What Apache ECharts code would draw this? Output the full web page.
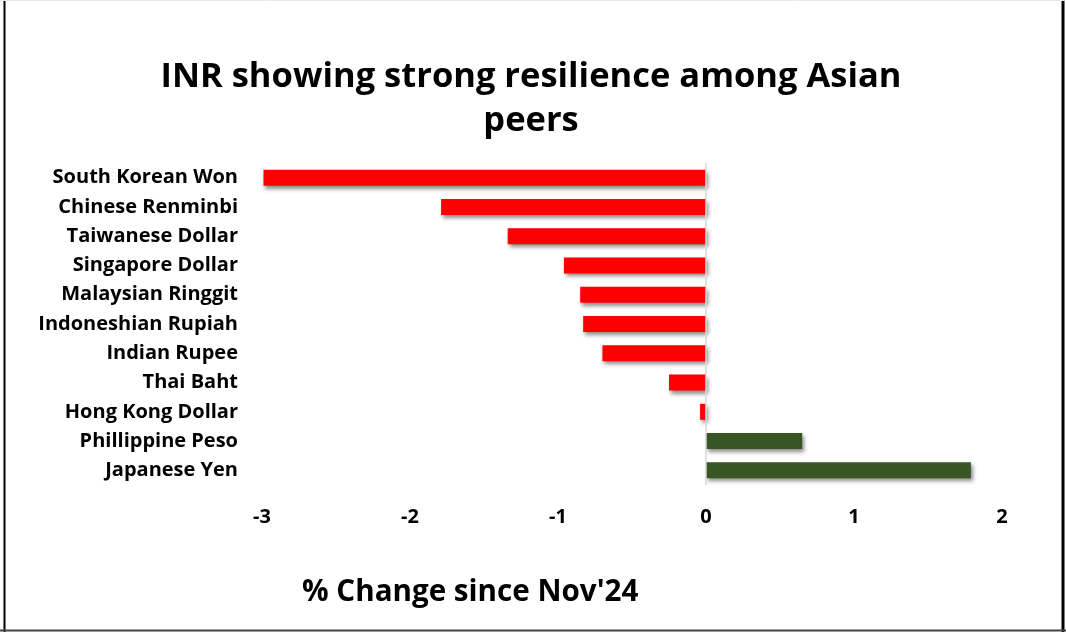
<!DOCTYPE html>
<html>
<head>
<meta charset="utf-8">
<script src="https://cdn.jsdelivr.net/npm/echarts@6/dist/echarts.min.js"></script>
<style>
html,body{margin:0;padding:0;background:#fff;}
#chart{width:1066px;height:632px;}
</style>
</head>
<body>
<div id="chart"></div>
<script>
const categories = ["South Korean Won","Chinese Renminbi","Taiwanese Dollar","Singapore Dollar","Malaysian Ringgit","Indoneshian Rupiah","Indian Rupee","Thai Baht","Hong Kong Dollar","Phillippine Peso","Japanese Yen"];
const changes = [-2.99, -1.79, -1.34, -0.96, -0.85, -0.83, -0.70, -0.25, -0.04, 0.65, 1.79];
const xTicks = [-3, -2, -1, 0, 1, 2];
const titleText = "INR showing strong resilience among Asian\npeers";
const xAxisTitle = "% Change since Nov'24";

const FONT = "Open Sans";
const chart = echarts.init(document.getElementById('chart'), null, {renderer:'canvas'});
chart.setOption({
  backgroundColor: '#ffffff',
  animation: false,
  grid: {left: 262, right: 64, top: 163, bottom: 147, containLabel: false},
  xAxis: {
    type: 'value',
    min: xTicks[0],
    max: xTicks[xTicks.length-1],
    interval: 1,
    axisLine: {show: false},
    axisTick: {show: false},
    splitLine: {show: false},
    axisLabel: {fontFamily: FONT, fontWeight: 'bold', fontSize: 20, color: '#000', margin: 22}
  },
  yAxis: {
    type: 'category',
    data: categories,
    inverse: true,
    axisLine: {show: false},
    axisTick: {show: false},
    axisLabel: {fontFamily: FONT, fontWeight: 'bold', fontSize: 20, color: '#000', margin: 24, verticalAlign: 'middle', padding: [6, 0, 0, 0]}
  },
  series: [{
    type: 'bar',
    data: changes,
    barWidth: 16,
    itemStyle: {
      color: p => p.value < 0 ? '#ff0000' : '#385623',
      shadowColor: 'rgba(0,0,0,0.45)',
      shadowBlur: 4,
      shadowOffsetX: 2,
      shadowOffsetY: 3
    },
    markLine: {
      silent: true,
      symbol: ['none','none'],
      label: {show: false},
      lineStyle: {color: '#d9d9d9', width: 1.5, type: 'solid'},
      data: [{xAxis: 0}]
    }
  }],
  graphic: [
    {type: 'text', x: 531, y: 55, style: {text: titleText, textAlign: 'center', fontFamily: FONT, fontWeight: 'bold', fontSize: 34.5, lineHeight: 44, fill: '#000'}},
    {type: 'text', left: 302, top: 578, style: {text: xAxisTitle, fontFamily: FONT, fontWeight: 'bold', fontSize: 29.6, fill: '#000'}},
    {type: 'line', shape: {x1: 4.5, y1: 0, x2: 4.5, y2: 632}, style: {stroke: '#000', lineWidth: 2}},
    {type: 'line', shape: {x1: 1063, y1: 0, x2: 1063, y2: 632}, style: {stroke: '#000', lineWidth: 3}},
    {type: 'line', shape: {x1: 0, y1: 630.5, x2: 1066, y2: 630.5}, style: {stroke: '#444', lineWidth: 2}},
    {type: 'line', shape: {x1: 0, y1: 0.5, x2: 1066, y2: 0.5}, style: {stroke: '#e8e8e8', lineWidth: 1}}
  ]
});
</script>
</body>
</html>
